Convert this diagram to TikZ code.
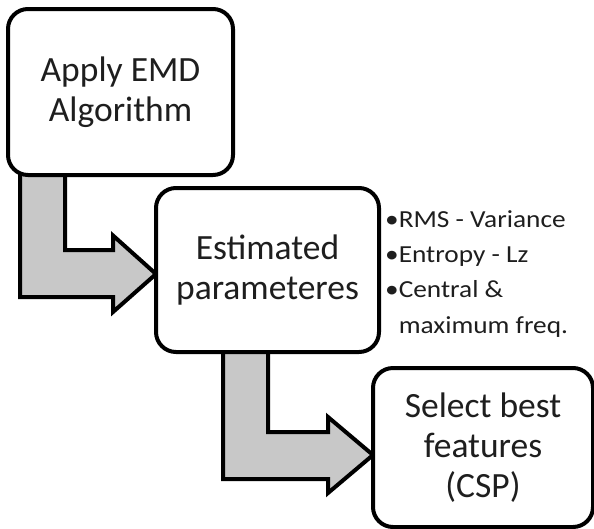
\documentclass[tikz,border=0pt]{standalone}
\usepackage{fontspec}
\setmainfont{Carlito}
\usetikzlibrary{calc}
\definecolor{arrowgray}{RGB}{200,200,200}
\definecolor{txt}{RGB}{30,30,30}
\tikzset{
  box/.style={draw=black, line width=4pt, rounded corners=20pt, fill=white,
    align=center, text=txt, font=\fontsize{35.5}{40}\selectfont, inner sep=0pt},
  barrow/.style={draw=black, line width=4pt, fill=arrowgray, line join=miter},
  bul/.style={anchor=base west, inner sep=0pt, text=txt, font=\fontsize{24.5}{29}\selectfont}
}
\newcommand{\wide}[1]{\scalebox{1.115}[1]{#1}}
\begin{document}
\begin{tikzpicture}[x=1pt,y=-1pt]
\useasboundingbox (0,0) rectangle (594,528);
\path (120.5,92) coordinate (c1) (267.5,270) coordinate (c2) (483,447.5) coordinate (c3);
\coordinate (t1) at (156,274);
\coordinate (t2) at (373,455);
\draw[barrow] (t1) -- ++(-43,-38.5) -- ++(0,14.5) -- ++(-48,0) -- ++(0,-80) -- ++(-45,0)
  -- ++(0,127) -- ++(93,0) -- ++(0,15) -- cycle;
\draw[barrow] (t2) -- ++(-45,-38) -- ++(0,15) -- ++(-60,0) -- ++(0,-82) -- ++(-45,0)
  -- ++(0,129) -- ++(105,0) -- ++(0,14) -- cycle;
\node[box, minimum width=225, minimum height=166] (b1) at (c1) {Apply EMD\\Algorithm};
\node[box, minimum width=223, minimum height=164] (b2) at (c2) {Estimated\\parameteres};
\node[box, minimum width=220, minimum height=159] (b3) at (c3) {Select best\\features\\(CSP)};
\node[bul] (l1) at (385,227.5) {\wide{•RMS - Variance}};
\node[bul] (l2) at (385,262.5) {\wide{•Entropy - Lz}};
\node[bul] (l3) at (385,297.5) {\wide{•Central \&}};
\node[bul] (l4) at (385,333) {\wide{\phantom{•}maximum freq.}};
\end{tikzpicture}
\end{document}
